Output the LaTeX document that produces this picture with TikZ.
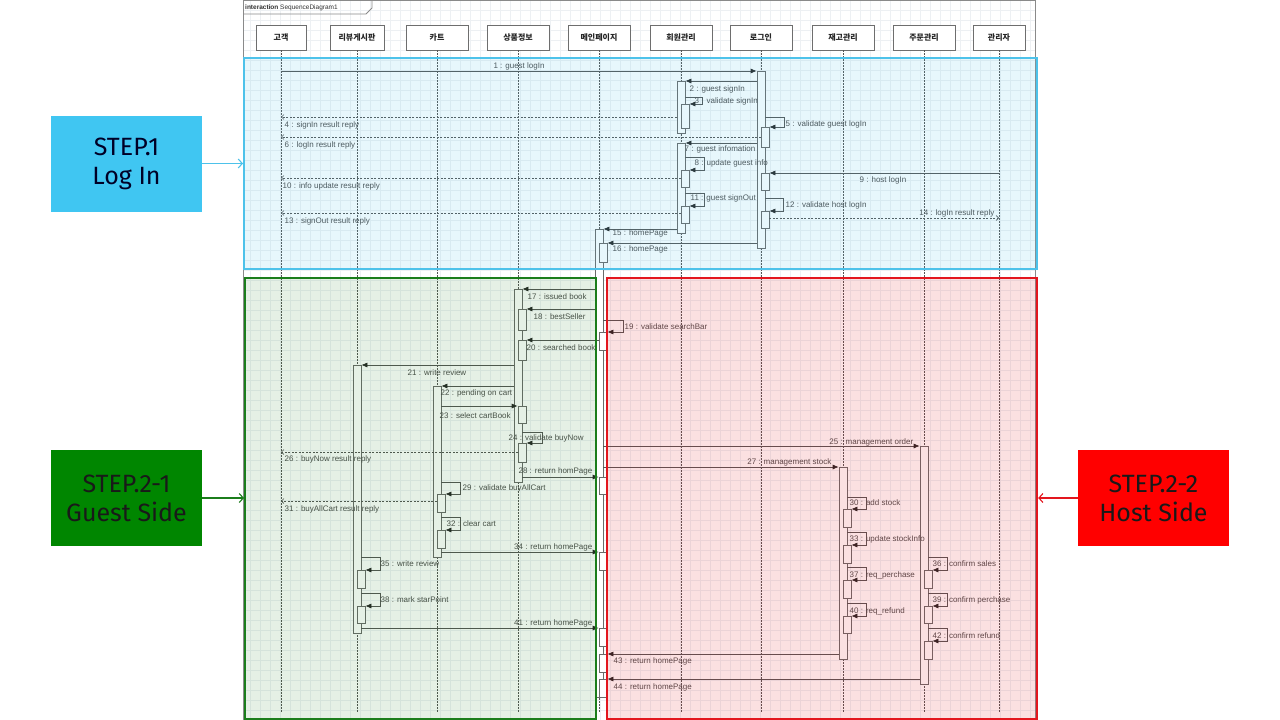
\documentclass[tikz,border=0pt]{standalone}
\usepackage{fontspec}
\setmainfont{Liberation Sans}
\newfontfamily\krfont{Noto Sans CJK KR}
\newfontfamily\stepfont{Fira Sans}
\usetikzlibrary{arrows.meta}

\definecolor{gridc}{HTML}{EDF0F3}
\definecolor{framec}{HTML}{8A8A8A}
\definecolor{headc}{HTML}{6E6E6E}
\definecolor{lifec}{HTML}{555555}
\definecolor{barc}{HTML}{6A6A6A}
\definecolor{msgc}{HTML}{555555}
\definecolor{txtc}{HTML}{4D4D4D}
\definecolor{zoneblue}{HTML}{4DC2EA}
\definecolor{zonegreen}{HTML}{1B7D1B}
\definecolor{zonered}{HTML}{E3161E}
\definecolor{stepblue}{HTML}{40C6F2}
\definecolor{stepgreen}{HTML}{008600}
\definecolor{stepred}{HTML}{FF0000}

\begin{document}
\begin{tikzpicture}[x=1pt,y=-1pt,
  head/.style={draw=headc, fill=white, line width=0.8pt, minimum height=25pt, inner sep=0pt, text=black!85, font=\krfont\bfseries\fontsize{8}{9}\selectfont},
  lifeline/.style={draw=lifec, line width=0.6pt, dash pattern=on 1.5pt off 1.5pt},
  bar/.style={draw=barc, fill=white, line width=0.7pt, minimum width=8pt, inner sep=0pt, anchor=north},
  msg/.style={draw=msgc, line width=0.7pt, -{Latex[length=6pt,width=5pt,color=black!85]}},
  reply/.style={draw=msgc, line width=0.6pt, dash pattern=on 2pt off 1.5pt, -{Straight Barb[length=2.5pt,width=5pt]}},
  lbl/.style={font=\fontsize{8}{9}\selectfont, text=txtc, inner sep=0.5pt},
  zone/.style={line width=2.2pt, anchor=north west, inner sep=0pt},
  stepbox/.style={minimum width=151pt, minimum height=96pt, inner sep=0pt, align=center, font=\stepfont\fontsize{25}{29}\selectfont},
  steparrow/.style={line width=1.1pt, -{Straight Barb[length=4pt,width=9pt]}}
]
\useasboundingbox[fill=white] (0,0) rectangle (1280,720);

% grid and frame of the interaction
\foreach \gx in {250,260,...,1030} \draw[gridc, line width=0.3pt] (\gx,1) -- (\gx,720);
\foreach \gy in {10,20,...,710} \draw[gridc, line width=0.3pt] (243,\gy) -- (1036,\gy);
\draw[framec, line width=0.8pt] (243.5,0.5) rectangle (1035.5,725);
\draw[framec, line width=0.8pt] (243.5,14) -- (366,14) -- (372,8) -- (372,0.5);
\node[anchor=west, inner sep=0pt, text=black!80, font=\fontsize{6.5}{7}\selectfont] (ttl) at (245,7.5) {\textbf{interaction} SequenceDiagram1};

% lifelines
\coordinate (bot) at (0,712);
\node[head, minimum width=50pt] (p1) at (281,37.5) {고객};
\node[head, minimum width=54pt] (p2) at (357,37.5) {리뷰게시판};
\node[head, minimum width=62pt] (p3) at (437,37.5) {카트};
\node[head, minimum width=62pt] (p4) at (518,37.5) {상품정보};
\node[head, minimum width=62pt] (p5) at (599,37.5) {메인페이지};
\node[head, minimum width=62pt] (p6) at (681,37.5) {회원관리};
\node[head, minimum width=62pt] (p7) at (761,37.5) {로그인};
\node[head, minimum width=62pt] (p8) at (843,37.5) {재고관리};
\node[head, minimum width=62pt] (p9) at (924,37.5) {주문관리};
\node[head, minimum width=52pt] (p10) at (999,37.5) {관리자};
\draw[lifeline] (p1.south) -- (p1 |- bot);
\draw[lifeline] (p2.south) -- (p2 |- bot);
\draw[lifeline] (p3.south) -- (p3 |- bot);
\draw[lifeline] (p4.south) -- (p4 |- bot);
\draw[lifeline] (p5.south) -- (p5 |- bot);
\draw[lifeline] (p6.south) -- (p6 |- bot);
\draw[lifeline] (p7.south) -- (p7 |- bot);
\draw[lifeline] (p8.south) -- (p8 |- bot);
\draw[lifeline] (p9.south) -- (p9 |- bot);
\draw[lifeline] (p10.south) -- (p10 |- bot);

% activations, log in
\node[bar, minimum height=177pt] (lg1) at (761,71) {};
\node[bar, minimum height=52pt] (hm1) at (681,81) {};
\node[bar, minimum height=24pt] (hm1a) at (685,104) {};
\node[bar, minimum height=20pt] (lg1a) at (765,127) {};
\node[bar, minimum height=90pt] (hm2) at (681,143) {};
\node[bar, minimum height=17pt] (hm2a) at (685,170) {};
\node[bar, minimum height=17pt] (lg1b) at (765,173) {};
\node[bar, minimum height=17pt] (hm2b) at (685,206) {};
\node[bar, minimum height=17pt] (lg1c) at (765,211) {};
\node[bar, minimum height=468pt] (mp1) at (599,229) {};
\node[bar, minimum height=19pt] (mp1a) at (603,243) {};

% activations, guest and host side
\node[bar, minimum height=193pt] (pi1) at (518,289) {};
\node[bar, minimum height=21pt] (pi1a) at (522,309) {};
\node[bar, minimum height=18pt] (mp1b) at (603,332) {};
\node[bar, minimum height=20pt] (pi1b) at (522,340) {};
\node[bar, minimum height=268pt] (rv1) at (357,365) {};
\node[bar, minimum height=171pt] (ct1) at (437,386) {};
\node[bar, minimum height=17pt] (pi1c) at (522,406) {};
\node[bar, minimum height=19pt] (pi1d) at (522,443) {};
\node[bar, minimum height=238pt] (or1) at (924,446) {};
\node[bar, minimum height=192pt] (st1) at (843,467) {};
\node[bar, minimum height=17pt] (mp1c) at (603,477) {};
\node[bar, minimum height=18pt] (ct1a) at (441,494) {};
\node[bar, minimum height=18pt] (st1a) at (847,509) {};
\node[bar, minimum height=18pt] (ct1b) at (441,530) {};
\node[bar, minimum height=18pt] (st1b) at (847,545) {};
\node[bar, minimum height=18pt] (mp1d) at (603,552) {};
\node[bar, minimum height=18pt] (rv1a) at (361,570) {};
\node[bar, minimum height=18pt] (or1a) at (928,570) {};
\node[bar, minimum height=18pt] (st1c) at (847,580) {};
\node[bar, minimum height=17pt] (rv1b) at (361,606) {};
\node[bar, minimum height=17pt] (or1b) at (928,606) {};
\node[bar, minimum height=17pt] (st1d) at (847,616) {};
\node[bar, minimum height=18pt] (mp1e) at (603,628) {};
\node[bar, minimum height=18pt] (or1c) at (928,641) {};
\node[bar, minimum height=18pt] (mp1f) at (603,654) {};
\node[bar, minimum height=18pt] (mp1g) at (603,679) {};

% messages, log in
\coordinate (m4) at (0,117);
\coordinate (m6) at (0,137);
\coordinate (m10) at (0,178);
\coordinate (m13) at (0,213);
\coordinate (m14) at (0,218);
\draw[msg] (p1 |- lg1.north) -- (lg1.north west);
\node[lbl] (l1) at (519,66) {1 : guest logIn};
\draw[msg] (lg1.west |- hm1.north) -- (hm1.north east);
\node[lbl, anchor=west] (l2) at (689,89) {2 : guest signIn};
\draw[msg] ([xshift=-4pt,yshift=7pt]hm1a.north east) -- ++(17,0) |- (hm1a.north east);
\node[lbl, anchor=west] (l3) at (694,101) {3 : validate signIn};
\draw[reply] (hm1.west |- m4) -- (p1 |- m4);
\node[lbl, anchor=west] (l4) at (284,125) {4 : signIn result reply};
\draw[msg] ([xshift=-4pt,yshift=10pt]lg1a.north east) -- ++(19,0) |- (lg1a.north east);
\node[lbl, anchor=west] (l5) at (785,124) {5 : validate guest logIn};
\draw[reply] (lg1a.west |- m6) -- (p1 |- m6);
\node[lbl, anchor=west] (l6) at (284,145) {6 : logIn result reply};
\draw[msg] (lg1.west |- hm2.north) -- (hm2.north east);
\node[lbl, anchor=west] (l7) at (684,149) {7 : guest infomation};
\draw[msg] ([xshift=-4pt,yshift=13pt]hm2a.north east) -- ++(19,0) |- (hm2a.north east);
\node[lbl, anchor=west] (l8) at (694,163) {8 : update guest info};
\draw[msg] (p10 |- lg1b.north) -- (lg1b.north east);
\node[lbl] (l9) at (883,180) {9 : host logIn};
\draw[reply] (hm2a.west |- m10) -- (p1 |- m10);
\node[lbl, anchor=west] (l10) at (282,186) {10 : info update result reply};
\draw[msg] ([xshift=-4pt,yshift=13pt]hm2b.north east) -- ++(19,0) |- (hm2b.north east);
\node[lbl, anchor=west] (l11) at (690,198) {11 : guest signOut};
\draw[msg] ([xshift=-4pt,yshift=13pt]lg1c.north east) -- ++(18,0) |- (lg1c.north east);
\node[lbl, anchor=west] (l12) at (785,205) {12 : validate host logIn};
\draw[reply] (hm2b.west |- m13) -- (p1 |- m13);
\node[lbl, anchor=west] (l13) at (284,221) {13 : signOut result reply};
\draw[reply] (lg1c.east |- m14) -- (p10 |- m14);
\node[lbl, anchor=east] (l14) at (995,213) {14 : logIn result reply};
\draw[msg] (hm2.west |- mp1.north) -- (mp1.north east);
\node[lbl, anchor=west] (l15) at (612,233) {15 : homePage};
\draw[msg] (lg1.west |- mp1a.north) -- (mp1a.north east);
\node[lbl, anchor=west] (l16) at (612,249) {16 : homePage};

% messages, guest and host side
\coordinate (m26) at (0,452);
\coordinate (m31) at (0,501);
\draw[msg] (mp1.west |- pi1.north) -- (pi1.north east);
\node[lbl, anchor=west] (l17) at (527,297) {17 : issued book};
\draw[msg] (mp1.west |- pi1a.north) -- (pi1a.north east);
\node[lbl, anchor=west] (l18) at (533,317) {18 : bestSeller};
\draw[msg] ([xshift=-4pt,yshift=12pt]mp1b.north east) -- ++(20,0) |- (mp1b.north east);
\node[lbl, anchor=west] (l19) at (624,327) {19 : validate searchBar};
\draw[msg] (mp1b.west |- pi1b.north) -- (pi1b.north east);
\node[lbl, anchor=west] (l20) at (526,348) {20 : searched book};
\draw[msg] (pi1.west |- rv1.north) -- (rv1.north east);
\node[lbl] (l21) at (437,373) {21 : write review};
\draw[msg] (pi1.west |- ct1.north) -- (ct1.north east);
\node[lbl, anchor=west] (l22) at (440,393) {22 : pending on cart};
\draw[msg] (ct1.east |- pi1c.north) -- (pi1c.north west);
\node[lbl, anchor=west] (l23) at (439,416) {23 : select cartBook};
\draw[msg] ([xshift=-4pt,yshift=11pt]pi1d.north east) -- ++(20,0) |- (pi1d.north east);
\node[lbl, anchor=west] (l24) at (508,438) {24 : validate buyNow};
\draw[msg] (mp1.east |- or1.north) -- (or1.north west);
\node[lbl, anchor=east] (l25) at (914,442) {25 : management order};
\draw[reply] (pi1d.west |- m26) -- (p1 |- m26);
\node[lbl, anchor=west] (l26) at (284,459) {26 : buyNow result reply};
\draw[msg] (mp1.east |- st1.north) -- (st1.north west);
\node[lbl, anchor=east] (l27) at (832,462) {27 : management stock};
\draw[msg] (pi1.east |- mp1c.north) -- (mp1c.north west);
\node[lbl, anchor=east] (l28) at (593,471) {28 : return homPage};
\draw[msg] ([xshift=-4pt,yshift=12pt]ct1a.north east) -- ++(19,0) |- (ct1a.north east);
\node[lbl, anchor=west] (l29) at (462,488) {29 : validate buyAllCart};
\draw[msg] ([xshift=-4pt,yshift=12pt]st1a.north east) -- ++(19,0) |- (st1a.north east);
\node[lbl, anchor=west] (l30) at (849,503) {30 : add stock};
\draw[reply] (ct1a.west |- m31) -- (p1 |- m31);
\node[lbl, anchor=west] (l31) at (284,509) {31 : buyAllCart result reply};
\draw[msg] ([xshift=-4pt,yshift=13pt]ct1b.north east) -- ++(19,0) |- (ct1b.north east);
\node[lbl, anchor=west] (l32) at (446,524) {32 : clear cart};
\draw[msg] ([xshift=-4pt,yshift=13pt]st1b.north east) -- ++(19,0) |- (st1b.north east);
\node[lbl, anchor=west] (l33) at (849,539) {33 : update stockInfo};
\draw[msg] (ct1.east |- mp1d.north) -- (mp1d.north west);
\node[lbl, anchor=east] (l34) at (593,547) {34 : return homePage};
\draw[msg] ([xshift=-4pt,yshift=13pt]rv1a.north east) -- ++(19,0) |- (rv1a.north east);
\node[lbl, anchor=west] (l35) at (380,564) {35 : write review};
\draw[msg] ([xshift=-4pt,yshift=13pt]or1a.north east) -- ++(19,0) |- (or1a.north east);
\node[lbl, anchor=west] (l36) at (932,564) {36 : confirm sales};
\draw[msg] ([xshift=-4pt,yshift=13pt]st1c.north east) -- ++(19,0) |- (st1c.north east);
\node[lbl, anchor=west] (l37) at (849,575) {37 : req\_perchase};
\draw[msg] ([xshift=-4pt,yshift=13pt]rv1b.north east) -- ++(19,0) |- (rv1b.north east);
\node[lbl, anchor=west] (l38) at (380,600) {38 : mark starPoint};
\draw[msg] ([xshift=-4pt,yshift=13pt]or1b.north east) -- ++(19,0) |- (or1b.north east);
\node[lbl, anchor=west] (l39) at (932,600) {39 : confirm perchase};
\draw[msg] ([xshift=-4pt,yshift=13pt]st1d.north east) -- ++(19,0) |- (st1d.north east);
\node[lbl, anchor=west] (l40) at (849,611) {40 : req\_refund};
\draw[msg] (rv1.east |- mp1e.north) -- (mp1e.north west);
\node[lbl, anchor=east] (l41) at (593,623) {41 : return homePage};
\draw[msg] ([xshift=-4pt,yshift=13pt]or1c.north east) -- ++(19,0) |- (or1c.north east);
\node[lbl, anchor=west] (l42) at (932,636) {42 : confirm refund};
\draw[msg] (st1.west |- mp1f.north) -- (mp1f.north east);
\node[lbl, anchor=west] (l43) at (613,661) {43 : return homePage};
\draw[msg] (or1.west |- mp1g.north) -- (mp1g.north east);
\node[lbl, anchor=west] (l44) at (613,687) {44 : return homePage};

% step zones
\node[zone, draw=zoneblue, fill=zoneblue, fill opacity=0.13, minimum width=793pt, minimum height=211pt] (f1) at (243,57) {};
\node[zone, draw=zonegreen, fill=zonegreen, fill opacity=0.11, minimum width=351pt, minimum height=441pt] (f2) at (244,277) {};
\node[zone, draw=zonered, fill=zonered, fill opacity=0.13, minimum width=430pt, minimum height=441pt] (f3) at (606,277) {};

% step labels
\node[stepbox, fill=stepblue, text=black!85!blue] (s1) at (126.5,163.5) {STEP.1\\Log In};
\node[stepbox, fill=stepgreen, text=black!90] (s2) at (126.5,498) {STEP.2-1\\Guest Side};
\node[stepbox, fill=stepred, text=black!90] (s3) at (1153.5,498) {STEP.2-2\\Host Side};
\draw[steparrow, zoneblue] (s1.east) -- (f1.west |- s1.east);
\draw[steparrow, zonegreen] (s2.east) -- (f2.west |- s2.east);
\draw[steparrow, zonered] (s3.west) -- (f3.east |- s3.west);
\end{tikzpicture}
\end{document}
